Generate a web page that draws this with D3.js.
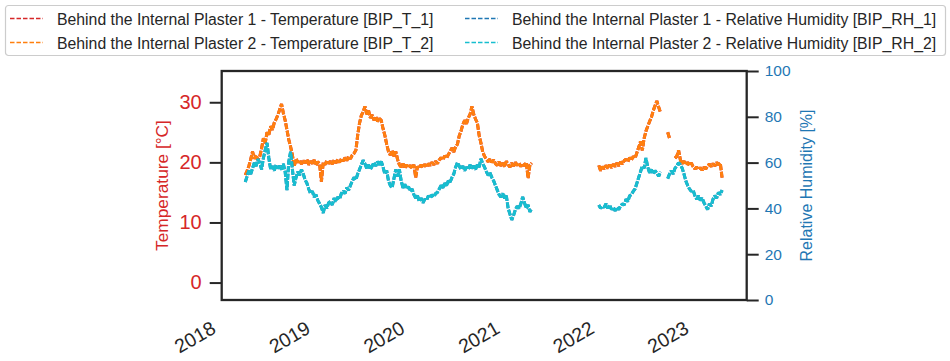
<!DOCTYPE html>
<html>
<head>
<meta charset="utf-8">
<script src="https://cdn.jsdelivr.net/npm/d3@7"></script>
<style>
  body { margin: 0; background: #fff; }
  svg { font-family: "Liberation Sans", Arial, sans-serif; }
</style>
</head>
<body>
<script>
// weekly samples, first one on 6 Apr 2018 (null = no record)
const firstSample = new Date(2018, 3, 6);
const stepDays = 7;

// Behind the Internal Plaster 2 - Temperature [°C]
const bipT2 = [
  17.9, 18.6, 19.4, 20.5, 21.8, 20.6, 21.2, 20.4, 21.0, 22.3,
  24.0, 23.2, 25.0, 24.6, 26.0, 25.4, 26.6, 27.2, 27.9, 28.8,
  29.7, 28.2, 27.0, 25.4, 23.8, 22.6, 21.2, 19.3, 20.6, 20.0,
  20.4, 19.7, 20.3, 19.9, 20.5, 19.6, 20.2, 19.8, 20.4, 19.5,
  20.1, 19.7, 16.8, 20.0, 19.6, 20.3, 19.8, 20.2, 19.7, 20.4,
  19.9, 20.5, 20.0, 20.6, 20.2, 20.8, 20.3, 21.0, 20.6, 21.2,
  21.5, 22.0, 24.5, 26.5, 27.8, 28.4, 29.3, 28.0, 28.6, 27.4,
  27.9, 27.0, 27.6, 26.8, 27.3, 27.0, 25.6, 24.5, 23.0, 21.8,
  21.2, 22.0, 21.0, 21.8, 20.5, 19.6, 19.2, 19.8, 19.0, 19.6,
  19.1, 19.5, 19.0, 19.6, 17.5, 19.3, 19.0, 19.6, 19.1, 19.7,
  19.2, 19.8, 19.5, 20.0, 19.6, 20.2, 19.8, 20.4, 20.8, 20.4,
  21.1, 20.7, 21.3, 21.8, 22.4, 21.7, 22.6, 23.0, 24.4, 25.2,
  26.3, 27.0, 26.4, 27.4, 28.0, 29.3, 28.0, 27.2, 26.6, 24.5,
  23.2, 21.7, 21.0, 20.5, 20.1, 20.6, 20.0, 20.4, 19.8, 19.5,
  20.1, 19.4, 19.9, 19.3, 20.2, 19.6, 19.2, 19.9, 19.4, 20.0,
  19.5, 19.9, 19.3, 19.8, 19.4, 20.0, 17.4, 19.6, 19.9,
  null, null, null, null, null, null, null, null, null, null,
  null, null, null, null, null, null, null, null, null, null,
  null, null, null, null, null, null, null, null, null, null,
  null, null, null, null, null, null,
  19.5, 18.6, 19.3, 18.9, 19.5, 19.0, 19.6, 19.1, 19.7, 19.3,
  19.9, 19.4, 20.1, 19.7, 20.3, 20.5, 20.1, 20.8, 20.4, 21.0,
  20.7, 21.6, 22.5, 23.5, 22.0, 24.0, 25.2, 26.0, 26.8, 27.5,
  28.6, 29.4, 30.2, 29.2, 28.3, null, null, null, 25.0, 24.0,
  null, null, 20.7, 21.0, 22.0, 20.4, 19.8, 20.2, 19.6, 20.0,
  19.5, 19.9, 19.3, 18.9, 19.2, 18.8, 19.1, 18.7, 19.2, 18.9,
  19.4, 19.7, 19.3, 19.8, 19.4, 20.0, 19.6, 19.9, 17.4
];

// Behind the Internal Plaster 2 - Relative Humidity [%]
const bipRH2 = [
  51.5, 54.0, 56.5, 55.0, 57.5, 60.0, 58.5, 61.5, 60.0, 57.0,
  62.0, 65.5, 68.6, 62.0, 57.0, 58.5, 56.5, 59.0, 57.5, 58.5,
  57.0, 59.5, 56.0, 48.0, 60.5, 64.7, 57.0, 50.0, 53.5, 56.0,
  54.5, 57.0, 55.0, 52.5, 51.0, 48.5, 46.5, 47.5, 45.0, 46.0,
  43.5, 42.0, 40.5, 38.0, 41.5, 40.0, 42.5, 43.0, 41.5, 44.5,
  43.0, 45.0, 44.0, 46.5, 47.5, 46.5, 49.0, 48.0, 50.0, 52.0,
  53.5, 52.5, 55.0, 57.0, 59.0, 61.0, 59.5, 57.5, 59.0, 57.0,
  58.5, 60.0, 58.5, 60.5, 59.0, 60.5, 58.0, 55.0, 56.5, 52.0,
  50.0, 49.0, 53.0, 57.0, 54.0, 57.0, 52.0, 49.0, 50.5, 48.5,
  49.5, 47.5, 48.5, 46.0, 44.5, 45.5, 43.0, 44.5, 42.5, 44.0,
  43.5, 45.5, 44.5, 46.0, 45.0, 46.5, 47.0, 48.5, 50.0, 49.0,
  51.0, 50.0, 52.0, 51.5, 53.5, 55.0, 58.0, 60.0, 58.5, 57.0,
  58.5, 56.5, 58.0, 57.0, 59.0, 57.5, 58.5, 57.0, 59.0, 58.0,
  61.7, 59.5, 58.0, 56.0, 54.5, 55.5, 53.5, 52.0, 50.0, 48.0,
  46.0, 45.0, 46.5, 44.5, 45.5, 40.0, 37.5, 35.0, 37.0, 39.5,
  41.0, 40.0, 42.0, 45.0, 42.5, 40.0, 41.5, 38.5, 40.0,
  null, null, null, null, null, null, null, null, null, null,
  null, null, null, null, null, null, null, null, null, null,
  null, null, null, null, null, null, null, null, null, null,
  null, null, null, null, null, null,
  41.5, 40.0, 41.0, 40.5, 42.0, 40.0, 41.5, 39.5, 40.5, 39.0,
  40.5, 39.5, 41.0, 42.0, 41.5, 44.0, 43.0, 45.5, 46.0, 47.5,
  48.5, 51.0, 53.5, 56.0, 58.5, 57.5, 62.0, 58.0, 55.5, 57.0,
  55.0, 56.5, 55.5, 54.0, 56.0, null, null, null, 53.0, 55.0,
  56.5, 55.0, 57.5, 58.5, 60.0, 59.0, 57.5, 55.0, 52.0, 50.0,
  48.5, 47.5, 48.0, 45.5, 44.0, 45.5, 43.5, 44.5, 42.5, 41.0,
  39.5, 42.0, 41.0, 44.0, 45.5, 44.5, 47.0, 46.0, 48.0
];

// sensor 1 curves sit exactly under sensor 2 in the picture, can't tell them apart
const bipT1 = bipT2;
const bipRH1 = bipRH2;

const tempTicks = [0, 10, 20, 30];
const rhTicks = [0, 20, 40, 60, 80, 100];
const yearTicks = [2018, 2019, 2020, 2021, 2022, 2023];

const legendItems = [
  {label: "Behind the Internal Plaster 1 - Temperature [BIP_T_1]", color: "#d62728"},
  {label: "Behind the Internal Plaster 2 - Temperature [BIP_T_2]", color: "#ff7f0e"},
  {label: "Behind the Internal Plaster 1 - Relative Humidity [BIP_RH_1]", color: "#1f77b4"},
  {label: "Behind the Internal Plaster 2 - Relative Humidity [BIP_RH_2]", color: "#17becf"}
];

const width = 950, height = 361;
const plot = {left: 221.7, right: 746.7, top: 71, bottom: 300};
const red = "#d62728", blue = "#1f77b4", dark = "#262626";

const svg = d3.select("body").append("svg")
  .attr("width", width)
  .attr("height", height);

const x = d3.scaleTime()
  .domain([new Date(2018, 0, 5), new Date(2023, 6, 25)])
  .range([plot.left, plot.right]);
const yT = d3.scaleLinear().domain([-2.9, 35.2]).range([plot.bottom, plot.top]);
const yRH = d3.scaleLinear().domain([0, 100]).range([plot.bottom, plot.top]);

const toPoints = vals => vals.map((v, i) => ({date: d3.timeDay.offset(firstSample, i * stepDays), v: v}));

const lineT = d3.line().defined(d => d.v != null).x(d => x(d.date)).y(d => yT(d.v));
const lineRH = d3.line().defined(d => d.v != null).x(d => x(d.date)).y(d => yRH(d.v));

// temperature first, humidity (twin axis) on top
const series = [
  {vals: bipT1, line: lineT, color: legendItems[0].color},
  {vals: bipT2, line: lineT, color: legendItems[1].color},
  {vals: bipRH1, line: lineRH, color: legendItems[2].color},
  {vals: bipRH2, line: lineRH, color: legendItems[3].color}
];

svg.append("g").selectAll("path")
  .data(series)
  .enter().append("path")
  .attr("d", s => s.line(toPoints(s.vals)))
  .attr("fill", "none")
  .attr("stroke", s => s.color)
  .attr("stroke-width", 3)
  .attr("stroke-linejoin", "bevel")
  .attr("stroke-dasharray", "6,1.5");

// left axis
const axL = svg.append("g")
  .attr("transform", `translate(${plot.left},0)`)
  .call(d3.axisLeft(yT).tickValues(tempTicks).tickSize(12).tickPadding(8).tickFormat(d3.format("d")));
axL.select(".domain").remove();
axL.selectAll("line").attr("stroke", dark).attr("stroke-width", 2);
axL.selectAll("text").attr("fill", red).style("font-size", "20px");

// right axis
const axR = svg.append("g")
  .attr("transform", `translate(${plot.right},0)`)
  .call(d3.axisRight(yRH).tickValues(rhTicks).tickSize(12).tickPadding(6).tickFormat(d3.format("d")));
axR.select(".domain").remove();
axR.selectAll("line").attr("stroke", dark).attr("stroke-width", 2);
axR.selectAll("text").attr("fill", blue).style("font-size", "15.5px");

// bottom axis, rotated year labels, no tick marks
const axB = svg.append("g")
  .attr("transform", `translate(0,${plot.bottom})`)
  .call(d3.axisBottom(x).tickValues(yearTicks.map(yr => new Date(yr, 0, 1))).tickSize(0).tickFormat(d3.timeFormat("%Y")));
axB.select(".domain").remove();
axB.selectAll("text")
  .attr("x", 0).attr("y", 0).attr("dy", "0.72em")
  .attr("text-anchor", "end")
  .attr("transform", "translate(-11,20) rotate(-30)")
  .attr("fill", dark)
  .style("font-size", "19.5px");

// frame
svg.append("rect")
  .attr("x", plot.left).attr("y", plot.top)
  .attr("width", plot.right - plot.left).attr("height", plot.bottom - plot.top)
  .attr("fill", "none").attr("stroke", dark).attr("stroke-width", 2.3);

// axis titles
svg.append("text")
  .attr("transform", `translate(167.5,${(plot.top + plot.bottom) / 2}) rotate(-90)`)
  .attr("text-anchor", "middle")
  .attr("fill", red)
  .style("font-size", "17.3px")
  .text("Temperature [°C]");

svg.append("text")
  .attr("transform", `translate(811.5,${(plot.top + plot.bottom) / 2}) rotate(-90)`)
  .attr("text-anchor", "middle")
  .attr("fill", blue)
  .style("font-size", "16px")
  .text("Relative Humidity [%]");

// legend, two columns
const legend = svg.append("g");
legend.append("rect")
  .attr("x", 5.5).attr("y", 5.5).attr("width", 940).attr("height", 50).attr("rx", 3)
  .attr("fill", "#fff").attr("stroke", "#cccccc").attr("stroke-width", 1.2);

const entry = legend.selectAll("g.entry")
  .data(legendItems)
  .enter().append("g")
  .attr("class", "entry")
  .attr("transform", (d, i) => `translate(${i < 2 ? 10 : 465},${i % 2 === 0 ? 18.5 : 42.5})`);

entry.append("line")
  .attr("x1", 0).attr("x2", 33)
  .attr("stroke", d => d.color)
  .attr("stroke-width", 1.6)
  .attr("stroke-dasharray", "4.5,2");

entry.append("text")
  .attr("x", 47).attr("y", 6)
  .attr("fill", dark)
  .style("font-size", "15.8px")
  .text(d => d.label);
</script>
</body>
</html>
